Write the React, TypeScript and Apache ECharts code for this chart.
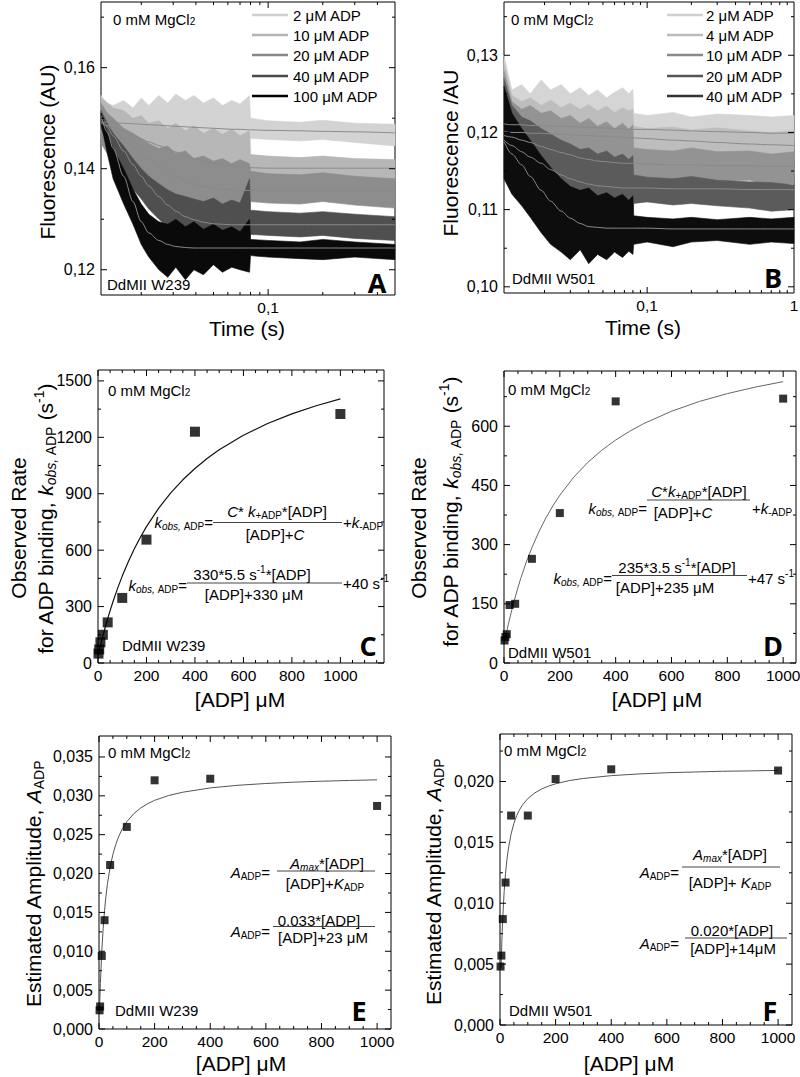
import React, { useEffect, useRef } from "react";
import * as echarts from "echarts";

const FF = "Liberation Sans, Arial, Helvetica, sans-serif";
const BOLDFF = "Open Sans, DejaVu Sans, sans-serif";

// ---------------- Panel A : DdMII W239, fluorescence transients ----------------
const timeA = [0.012, 0.013, 0.014, 0.016, 0.018, 0.02, 0.022, 0.025, 0.028, 0.031, 0.035, 0.039, 0.044, 0.05, 0.056, 0.063, 0.07, 0.079, 0.08, 0.1, 0.15, 0.2, 0.3, 0.5];
const legendA = ["2 μM ADP", "10 μM ADP", "20 μM ADP", "40 μM ADP", "100 μM ADP"];
const hi2A = [0.1545, 0.1530, 0.1525, 0.1535, 0.1520, 0.1540, 0.1525, 0.1545, 0.1530, 0.1548, 0.1535, 0.1545, 0.1530, 0.1540, 0.1525, 0.1535, 0.1528, 0.1545, 0.1500, 0.1495, 0.1492, 0.1496, 0.1490, 0.1488];
const lo2A = [0.1470, 0.1455, 0.1450, 0.1445, 0.1440, 0.1450, 0.1438, 0.1445, 0.1440, 0.1445, 0.1438, 0.1448, 0.1440, 0.1445, 0.1438, 0.1445, 0.1440, 0.1445, 0.1460, 0.1458, 0.1455, 0.1458, 0.1452, 0.1445];
const hi10A = [0.1540, 0.1530, 0.1520, 0.1515, 0.1500, 0.1505, 0.1490, 0.1495, 0.1480, 0.1490, 0.1475, 0.1485, 0.1470, 0.1480, 0.1468, 0.1478, 0.1465, 0.1475, 0.1428, 0.1425, 0.1422, 0.1425, 0.1420, 0.1418];
const lo10A = [0.1460, 0.1440, 0.1430, 0.1420, 0.1410, 0.1400, 0.1395, 0.1385, 0.1380, 0.1370, 0.1365, 0.1360, 0.1355, 0.1358, 0.1350, 0.1355, 0.1350, 0.1352, 0.1383, 0.1385, 0.1382, 0.1380, 0.1378, 0.1375];
const hi20A = [0.1530, 0.1510, 0.1500, 0.1480, 0.1470, 0.1460, 0.1450, 0.1440, 0.1445, 0.1430, 0.1435, 0.1420, 0.1425, 0.1415, 0.1420, 0.1410, 0.1418, 0.1410, 0.1395, 0.1390, 0.1388, 0.1392, 0.1385, 0.1380];
const lo20A = [0.1450, 0.1430, 0.1410, 0.1395, 0.1380, 0.1365, 0.1350, 0.1340, 0.1330, 0.1325, 0.1318, 0.1320, 0.1310, 0.1315, 0.1305, 0.1312, 0.1308, 0.1310, 0.1335, 0.1332, 0.1330, 0.1335, 0.1328, 0.1322];
const hi40A = [0.1515, 0.1490, 0.1470, 0.1445, 0.1420, 0.1400, 0.1385, 0.1370, 0.1358, 0.1350, 0.1345, 0.1340, 0.1335, 0.1342, 0.1330, 0.1338, 0.1332, 0.1380, 0.1318, 0.1315, 0.1312, 0.1315, 0.1310, 0.1305];
const lo40A = [0.1480, 0.1450, 0.1420, 0.1390, 0.1360, 0.1340, 0.1320, 0.1300, 0.1285, 0.1270, 0.1262, 0.1258, 0.1250, 0.1255, 0.1248, 0.1252, 0.1245, 0.1250, 0.1270, 0.1268, 0.1265, 0.1268, 0.1262, 0.1258];
const hi100A = [0.1510, 0.1470, 0.1440, 0.1400, 0.1360, 0.1330, 0.1310, 0.1295, 0.1290, 0.1300, 0.1285, 0.1295, 0.1280, 0.1290, 0.1278, 0.1285, 0.1275, 0.1300, 0.1260, 0.1258, 0.1255, 0.1260, 0.1255, 0.1250];
const lo100A = [0.1490, 0.1430, 0.1380, 0.1330, 0.1290, 0.1250, 0.1225, 0.1200, 0.1185, 0.1205, 0.1180, 0.1200, 0.1190, 0.1210, 0.1195, 0.1205, 0.1200, 0.1195, 0.1228, 0.1225, 0.1222, 0.1220, 0.1225, 0.1220];
const fit2A = [0.1492, 0.1492, 0.1491, 0.1490, 0.1489, 0.1488, 0.1487, 0.1486, 0.1485, 0.1484, 0.1483, 0.1482, 0.1481, 0.1480, 0.1479, 0.1478, 0.1478, 0.1477, 0.1477, 0.1476, 0.1475, 0.1474, 0.1473, 0.1471];
const fit10A = [0.1490, 0.1486, 0.1482, 0.1474, 0.1466, 0.1459, 0.1453, 0.1446, 0.1439, 0.1433, 0.1426, 0.1420, 0.1415, 0.1410, 0.1407, 0.1405, 0.1403, 0.1402, 0.1402, 0.1401, 0.1401, 0.1401, 0.1401, 0.1401];
const fit20A = [0.1495, 0.1485, 0.1476, 0.1458, 0.1443, 0.1430, 0.1419, 0.1405, 0.1394, 0.1385, 0.1376, 0.1370, 0.1365, 0.1361, 0.1359, 0.1358, 0.1357, 0.1357, 0.1357, 0.1357, 0.1357, 0.1357, 0.1357, 0.1357];
const fit40A = [0.1500, 0.1482, 0.1465, 0.1435, 0.1408, 0.1385, 0.1366, 0.1345, 0.1328, 0.1316, 0.1305, 0.1299, 0.1294, 0.1291, 0.1290, 0.1289, 0.1289, 0.1289, 0.1289, 0.1289, 0.1289, 0.1289, 0.1289, 0.1289];
const fit100A = [0.1505, 0.1472, 0.1440, 0.1385, 0.1335, 0.1295, 0.1273, 0.1258, 0.1250, 0.1246, 0.1244, 0.1243, 0.1243, 0.1243, 0.1243, 0.1243, 0.1243, 0.1243, 0.1243, 0.1243, 0.1243, 0.1243, 0.1243, 0.1243];
const yTicksA = [0.12, 0.14, 0.16];
const yMinorA = [0.13, 0.15, 0.17];
const xTicksA = [0.1];
const xMinorA = [0.02, 0.03, 0.04, 0.05, 0.06, 0.07, 0.08, 0.09, 0.2, 0.3, 0.4];

// ---------------- Panel B : DdMII W501, fluorescence transients ----------------
const timeB = [0.0106, 0.012, 0.014, 0.016, 0.019, 0.022, 0.026, 0.03, 0.035, 0.04, 0.046, 0.053, 0.06, 0.068, 0.075, 0.08, 0.081, 0.1, 0.15, 0.2, 0.3, 0.5, 0.7, 1.0];
const legendB = ["2 μM ADP", "4 μM ADP", "10 μM ADP", "20 μM ADP", "40 μM ADP"];
const hi2B = [0.1300, 0.1255, 0.1262, 0.1250, 0.1268, 0.1255, 0.1262, 0.1250, 0.1258, 0.1248, 0.1255, 0.1245, 0.1252, 0.1258, 0.1250, 0.1256, 0.1225, 0.1222, 0.1226, 0.1220, 0.1224, 0.1222, 0.1220, 0.1222];
const lo2B = [0.1190, 0.1175, 0.1168, 0.1172, 0.1165, 0.1170, 0.1166, 0.1172, 0.1168, 0.1175, 0.1170, 0.1176, 0.1172, 0.1178, 0.1174, 0.1180, 0.1188, 0.1190, 0.1186, 0.1190, 0.1187, 0.1188, 0.1185, 0.1188];
const hi4B = [0.1290, 0.1248, 0.1240, 0.1245, 0.1235, 0.1242, 0.1232, 0.1238, 0.1230, 0.1236, 0.1228, 0.1234, 0.1226, 0.1232, 0.1228, 0.1230, 0.1208, 0.1205, 0.1207, 0.1203, 0.1206, 0.1202, 0.1200, 0.1202];
const lo4B = [0.1170, 0.1155, 0.1150, 0.1148, 0.1145, 0.1150, 0.1146, 0.1152, 0.1148, 0.1150, 0.1146, 0.1152, 0.1150, 0.1155, 0.1152, 0.1155, 0.1172, 0.1174, 0.1170, 0.1173, 0.1168, 0.1166, 0.1164, 0.1165];
const hi10B = [0.1280, 0.1240, 0.1230, 0.1235, 0.1225, 0.1228, 0.1218, 0.1222, 0.1212, 0.1218, 0.1208, 0.1214, 0.1205, 0.1212, 0.1204, 0.1210, 0.1180, 0.1178, 0.1176, 0.1180, 0.1175, 0.1176, 0.1172, 0.1175];
const lo10B = [0.1150, 0.1140, 0.1135, 0.1130, 0.1128, 0.1125, 0.1122, 0.1126, 0.1120, 0.1124, 0.1118, 0.1122, 0.1118, 0.1124, 0.1120, 0.1125, 0.1140, 0.1142, 0.1138, 0.1140, 0.1136, 0.1138, 0.1130, 0.1134];
const hi20B = [0.1270, 0.1235, 0.1220, 0.1215, 0.1205, 0.1198, 0.1190, 0.1185, 0.1178, 0.1180, 0.1172, 0.1176, 0.1168, 0.1172, 0.1165, 0.1170, 0.1145, 0.1142, 0.1140, 0.1143, 0.1138, 0.1136, 0.1135, 0.1132];
const lo20B = [0.1150, 0.1135, 0.1125, 0.1118, 0.1110, 0.1102, 0.1098, 0.1092, 0.1088, 0.1090, 0.1085, 0.1088, 0.1084, 0.1088, 0.1085, 0.1090, 0.1108, 0.1110, 0.1106, 0.1108, 0.1105, 0.1102, 0.1098, 0.1100];
const hi40B = [0.1260, 0.1225, 0.1205, 0.1190, 0.1170, 0.1155, 0.1140, 0.1130, 0.1125, 0.1128, 0.1118, 0.1122, 0.1115, 0.1120, 0.1112, 0.1118, 0.1092, 0.1090, 0.1088, 0.1090, 0.1087, 0.1090, 0.1088, 0.1090];
const lo40B = [0.1140, 0.1120, 0.1105, 0.1090, 0.1070, 0.1055, 0.1045, 0.1035, 0.1048, 0.1030, 0.1042, 0.1035, 0.1045, 0.1038, 0.1046, 0.1042, 0.1055, 0.1058, 0.1052, 0.1058, 0.1060, 0.1055, 0.1058, 0.1056];
const fit2B = [0.1211, 0.1210, 0.1210, 0.1209, 0.1209, 0.1208, 0.1208, 0.1208, 0.1207, 0.1207, 0.1206, 0.1206, 0.1205, 0.1205, 0.1204, 0.1204, 0.1204, 0.1204, 0.1203, 0.1202, 0.1201, 0.1200, 0.1199, 0.1199];
const fit4B = [0.1201, 0.1200, 0.1200, 0.1199, 0.1199, 0.1198, 0.1198, 0.1197, 0.1196, 0.1196, 0.1195, 0.1195, 0.1194, 0.1194, 0.1193, 0.1193, 0.1193, 0.1192, 0.1190, 0.1189, 0.1187, 0.1185, 0.1184, 0.1183];
const fit10B = [0.1196, 0.1194, 0.1190, 0.1187, 0.1182, 0.1178, 0.1174, 0.1171, 0.1167, 0.1165, 0.1163, 0.1162, 0.1161, 0.1160, 0.1160, 0.1160, 0.1160, 0.1159, 0.1158, 0.1158, 0.1157, 0.1157, 0.1156, 0.1156];
const fit20B = [0.1190, 0.1183, 0.1175, 0.1168, 0.1160, 0.1152, 0.1145, 0.1140, 0.1136, 0.1133, 0.1131, 0.1130, 0.1129, 0.1128, 0.1128, 0.1128, 0.1128, 0.1128, 0.1127, 0.1127, 0.1127, 0.1126, 0.1126, 0.1126];
const fit40B = [0.1188, 0.1172, 0.1158, 0.1143, 0.1125, 0.1111, 0.1098, 0.1089, 0.1082, 0.1078, 0.1077, 0.1076, 0.1076, 0.1076, 0.1076, 0.1076, 0.1076, 0.1076, 0.1075, 0.1075, 0.1075, 0.1075, 0.1075, 0.1075];
const yTicksB = [0.1, 0.11, 0.12, 0.13];
const yMinorB = [0.105, 0.115, 0.125, 0.135];
const xTicksB = [0.1];
const xMinorB = [0.02, 0.03, 0.04, 0.05, 0.06, 0.07, 0.08, 0.09, 0.2, 0.3, 0.4, 0.5, 0.6, 0.7, 0.8, 0.9];

// ---------------- Panels C / D : observed rate ----------------
const adpC = [2, 5, 10, 20, 40, 100, 200, 400, 1000];
const rateC = [50, 72, 110, 150, 216, 346, 656, 1230, 1324];
const adpD = [2, 5, 10, 20, 40, 100, 200, 400, 1000];
const rateD = [57, 66, 73, 147, 150, 264, 380, 663, 670];
const fitAdpCD = [0, 5, 10, 15, 20, 30, 40, 50, 60, 80, 100, 125, 150, 175, 200, 250, 300, 350, 400, 450, 500, 600, 700, 800, 900, 1000];
const fitRateC = [40, 67.1, 93.4, 118.9, 143.7, 191.3, 236.2, 278.8, 319.2, 394.1, 462.1, 538.6, 607.2, 669.0, 724.9, 822.3, 904.3, 974.2, 1034.5, 1087.1, 1133.4, 1211.0, 1273.5, 1325.0, 1368.0, 1404.7];
const fitRateD = [47, 64.1, 80.6, 96.4, 111.5, 140.1, 166.6, 191.3, 214.3, 255.9, 292.5, 332.6, 367.5, 398.1, 425.2, 471.0, 508.2, 539.1, 565.1, 587.3, 606.5, 638.0, 662.8, 682.7, 699.2, 713.0];
const xTicksADP = [0, 200, 400, 600, 800, 1000];
const yTicksC = [0, 300, 600, 900, 1200, 1500];
const yTicksD = [0, 150, 300, 450, 600];

// ---------------- Panels E / F : amplitude ----------------
const adpE = [2, 4, 10, 20, 40, 100, 200, 400, 1000];
const ampE = [0.0024, 0.0029, 0.0094, 0.0140, 0.0211, 0.0260, 0.0320, 0.0322, 0.0287];
const adpF = [2, 5, 10, 20, 40, 100, 200, 400, 1000];
const ampF = [0.0048, 0.0057, 0.0087, 0.0117, 0.0172, 0.0172, 0.0202, 0.0210, 0.0209];
const fitAdpE = [2, 5, 10, 15, 20, 25, 30, 40, 50, 60, 70, 80, 100, 125, 150, 175, 200, 250, 300, 400, 500, 600, 700, 800, 900, 1000];
const fitAmpE = [0.00262, 0.00586, 0.00994, 0.01295, 0.01526, 0.01708, 0.01857, 0.02083, 0.02247, 0.02371, 0.02469, 0.02548, 0.02667, 0.02770, 0.02844, 0.02899, 0.02942, 0.03004, 0.03046, 0.03102, 0.03136, 0.03159, 0.03176, 0.03188, 0.03198, 0.03206];
const fitAdpF = [4, 5, 7, 10, 15, 20, 25, 30, 40, 50, 60, 70, 80, 100, 125, 150, 175, 200, 250, 300, 400, 500, 600, 700, 800, 900, 1000];
const fitAmpF = [0.00471, 0.00558, 0.00707, 0.00883, 0.01097, 0.01247, 0.01359, 0.01445, 0.01570, 0.01656, 0.01719, 0.01767, 0.01804, 0.01860, 0.01906, 0.01939, 0.01963, 0.01981, 0.02008, 0.02025, 0.02048, 0.02062, 0.02072, 0.02078, 0.02084, 0.02087, 0.02091];
const yTicksE = [0, 0.005, 0.01, 0.015, 0.02, 0.025, 0.03, 0.035];
const yTicksF = [0, 0.005, 0.01, 0.015, 0.02];

// ---------------- helpers ----------------
function minorBetween(max: number, step: number, major: number) {
  const out: number[] = [];
  for (let k = 1; k * step < max * 0.985; k++) {
    const v = +(k * step).toFixed(6);
    const r = v / major;
    if (Math.abs(r - Math.round(r)) > 1e-6) out.push(v);
  }
  return out;
}

function richSet(size: number, sub: number) {
  const base = { fontFamily: FF, fill: "#000" };
  const lh = Math.round(size * 1.25);
  return {
    n: { ...base, fontSize: size, lineHeight: lh },
    i: { ...base, fontSize: size, fontStyle: "italic", lineHeight: lh },
    s: { ...base, fontSize: sub, lineHeight: sub, verticalAlign: "bottom" },
    si: { ...base, fontSize: sub, fontStyle: "italic", lineHeight: sub, verticalAlign: "bottom" },
    p: { ...base, fontSize: sub, lineHeight: sub, verticalAlign: "top" },
  };
}
const R15 = richSet(15, 10);
const R21 = richSet(21, 14);

function txt(x: number, y: number, text: string, align = "left", big = false, rot = 0) {
  return {
    type: "text",
    x,
    y,
    rotation: rot,
    silent: true,
    z: 100,
    style: {
      text,
      rich: big ? R21 : R15,
      fontFamily: FF,
      fontSize: big ? 21 : 15,
      fill: "#000",
      align,
      verticalAlign: "middle",
    },
  };
}
function letter(x: number, y: number, t: string) {
  return {
    type: "text",
    x,
    y,
    silent: true,
    z: 100,
    style: { text: t, fontFamily: BOLDFF, fontWeight: "bold", fontSize: 27, fill: "#000", align: "center", verticalAlign: "middle" },
  };
}
function hline(x1: number, x2: number, y: number, color = "#444", w = 1) {
  return { type: "line", silent: true, z: 100, shape: { x1, y1: y, x2, y2: y }, style: { stroke: color, lineWidth: w } };
}

function bandSeries(gi: number, t: number[], hi: number[], lo: number[], color: string) {
  const verts = t.map((x, i) => [x, hi[i]]).concat(t.map((x, i) => [x, lo[i]]).reverse());
  return {
    type: "custom",
    xAxisIndex: gi,
    yAxisIndex: gi,
    silent: true,
    z: 2,
    data: verts,
    renderItem: (params: any, api: any) => {
      if (params.dataIndex !== 0) return { type: "group", children: [] };
      const pts = verts.map((p) => api.coord(p));
      return { type: "polygon", shape: { points: pts }, style: { fill: color, stroke: color, lineWidth: 0.6 } };
    },
  };
}

function fitLine(gi: number, xs: number[], ys: number[], color: string, w = 1, smooth: any = false) {
  return {
    type: "line",
    xAxisIndex: gi,
    yAxisIndex: gi,
    data: xs.map((x, i) => [x, ys[i]]),
    showSymbol: false,
    symbol: "none",
    smooth,
    smoothMonotone: "x",
    silent: true,
    z: 3,
    lineStyle: { color, width: w },
  };
}

function scatter(gi: number, xs: number[], ys: number[], size: number) {
  return {
    type: "scatter",
    xAxisIndex: gi,
    yAxisIndex: gi,
    data: xs.map((x, i) => [x, ys[i]]),
    symbol: "rect",
    symbolSize: size,
    silent: true,
    z: 4,
    itemStyle: { color: "#000" },
  };
}

function tickSeries(gi: number, xr: number[], yr: number[], xMaj: number[], xMin: number[], yMaj: number[], yMin: number[]) {
  const data: number[][] = [];
  xMaj.forEach((v) => data.push([v, yr[0], 0, 6]));
  xMin.forEach((v) => data.push([v, yr[0], 0, 3]));
  yMaj.forEach((v) => data.push([xr[0], v, 1, 6]));
  yMin.forEach((v) => data.push([xr[0], v, 1, 3]));
  return {
    type: "custom",
    xAxisIndex: gi,
    yAxisIndex: gi,
    silent: true,
    z: 6,
    data,
    renderItem: (params: any, api: any) => {
      const v0 = api.value(0);
      const v1 = api.value(1);
      const kind = api.value(2);
      const len = api.value(3);
      const st = { stroke: "#000", lineWidth: 1 };
      if (kind === 0) {
        const p = api.coord([v0, yr[0]]);
        const q = api.coord([v0, yr[1]]);
        return {
          type: "group",
          children: [
            { type: "line", shape: { x1: p[0], y1: p[1], x2: p[0], y2: p[1] - len }, style: st },
            { type: "line", shape: { x1: q[0], y1: q[1], x2: q[0], y2: q[1] + len }, style: st },
          ],
        };
      }
      const p = api.coord([xr[0], v1]);
      const q = api.coord([xr[1], v1]);
      return {
        type: "group",
        children: [
          { type: "line", shape: { x1: p[0], y1: p[1], x2: p[0] + len, y2: p[1] }, style: st },
          { type: "line", shape: { x1: q[0], y1: q[1], x2: q[0] - len, y2: q[1] }, style: st },
        ],
      };
    },
  };
}

const comma = (d: number) => (v: number) => v.toFixed(d).replace(".", ",");
const plainInt = (v: number) => String(Math.round(v));
const decadeLabel = (v: number) => {
  const l = Math.log10(v);
  if (Math.abs(l - Math.round(l)) > 1e-4) return "";
  return String(+v.toPrecision(3)).replace(".", ",");
};

function buildOption() {
  const boxes = [
    { left: 101, top: 2, width: 294, height: 293 },
    { left: 504, top: 2, width: 290, height: 291 },
    { left: 98, top: 370, width: 286, height: 293 },
    { left: 504, top: 371, width: 292, height: 292 },
    { left: 99, top: 736, width: 292, height: 293 },
    { left: 500, top: 734, width: 292, height: 291 },
  ];
  const grid = boxes.map((b) => ({ ...b, show: true, borderColor: "#000", borderWidth: 1, backgroundColor: "transparent", containLabel: false, outerBoundsMode: "none" }));

  const lblY = { fontSize: 16, fontFamily: FF, color: "#000", margin: 6 };
  const lblX = { fontSize: 15.5, fontFamily: FF, color: "#000", margin: 4 };
  const baseAxis = { axisLine: { show: false }, axisTick: { show: false }, splitLine: { show: false } };

  const xR = [[0.012, 0.5], [0.0106, 1], [0, 1180], [0, 1046], [0, 1050], [0, 1050]];
  const yR = [[0.115, 0.173], [0.0992, 0.1369], [0, 1558], [0, 740], [0, 0.0377], [0, 0.0239]];

  const xAxis = [
    { ...baseAxis, gridIndex: 0, type: "log", logBase: 10, min: xR[0][0], max: xR[0][1], axisLabel: { ...lblX, interval: 0, formatter: decadeLabel } },
    { ...baseAxis, gridIndex: 1, type: "log", logBase: 10, min: xR[1][0], max: xR[1][1], axisLabel: { ...lblX, interval: 0, formatter: decadeLabel } },
    { ...baseAxis, gridIndex: 2, type: "value", min: xR[2][0], max: xR[2][1], axisLabel: { ...lblX, customValues: xTicksADP, formatter: plainInt } },
    { ...baseAxis, gridIndex: 3, type: "value", min: xR[3][0], max: xR[3][1], axisLabel: { ...lblX, customValues: xTicksADP, formatter: plainInt } },
    { ...baseAxis, gridIndex: 4, type: "value", min: xR[4][0], max: xR[4][1], axisLabel: { ...lblX, customValues: xTicksADP, formatter: plainInt } },
    { ...baseAxis, gridIndex: 5, type: "value", min: xR[5][0], max: xR[5][1], axisLabel: { ...lblX, customValues: xTicksADP, formatter: plainInt } },
  ];
  const yAxis = [
    { ...baseAxis, gridIndex: 0, type: "value", min: yR[0][0], max: yR[0][1], axisLabel: { ...lblY, customValues: yTicksA, formatter: comma(2) } },
    { ...baseAxis, gridIndex: 1, type: "value", min: yR[1][0], max: yR[1][1], axisLabel: { ...lblY, customValues: yTicksB, formatter: comma(2) } },
    { ...baseAxis, gridIndex: 2, type: "value", min: yR[2][0], max: yR[2][1], axisLabel: { ...lblY, customValues: yTicksC, formatter: plainInt } },
    { ...baseAxis, gridIndex: 3, type: "value", min: yR[3][0], max: yR[3][1], axisLabel: { ...lblY, customValues: yTicksD, formatter: plainInt } },
    { ...baseAxis, gridIndex: 4, type: "value", min: yR[4][0], max: yR[4][1], axisLabel: { ...lblY, customValues: yTicksE, formatter: comma(3) } },
    { ...baseAxis, gridIndex: 5, type: "value", min: yR[5][0], max: yR[5][1], axisLabel: { ...lblY, customValues: yTicksF, formatter: comma(3) } },
  ];

  const series: any[] = [];
  const colorsA = ["#d3d3d3", "#b7b7b7", "#8d8d8d", "#4f4f4f", "#0a0a0a"];
  const colorsB = ["#d5d5d5", "#bdbdbd", "#939393", "#5b5b5b", "#0d0d0d"];
  const bandsA = [[hi2A, lo2A], [hi10A, lo10A], [hi20A, lo20A], [hi40A, lo40A], [hi100A, lo100A]];
  const bandsB = [[hi2B, lo2B], [hi4B, lo4B], [hi10B, lo10B], [hi20B, lo20B], [hi40B, lo40B]];
  bandsA.forEach(([h, l], k) => series.push(bandSeries(0, timeA, h, l, colorsA[k])));
  [fit2A, fit10A, fit20A, fit40A, fit100A].forEach((f) => series.push(fitLine(0, timeA, f, "#8a8a8a", 1, 0.3)));
  bandsB.forEach(([h, l], k) => series.push(bandSeries(1, timeB, h, l, colorsB[k])));
  [fit2B, fit4B, fit10B, fit20B, fit40B].forEach((f) => series.push(fitLine(1, timeB, f, "#8a8a8a", 1, 0.3)));

  series.push(fitLine(2, fitAdpCD, fitRateC, "#111", 1.2));
  series.push(scatter(2, adpC, rateC, 10));
  series.push(fitLine(3, fitAdpCD, fitRateD, "#666", 1));
  series.push(scatter(3, adpD, rateD, 8));
  series.push(fitLine(4, fitAdpE, fitAmpE, "#555", 1));
  series.push(scatter(4, adpE, ampE, 8));
  series.push(fitLine(5, fitAdpF, fitAmpF, "#555", 1));
  series.push(scatter(5, adpF, ampF, 8));

  series.push(tickSeries(0, xR[0], yR[0], xTicksA, xMinorA, yTicksA, yMinorA));
  series.push(tickSeries(1, xR[1], yR[1], xTicksB, xMinorB, yTicksB, yMinorB));
  series.push(tickSeries(2, xR[2], yR[2], xTicksADP, minorBetween(1180, 50, 200), yTicksC, minorBetween(1558, 150, 300)));
  series.push(tickSeries(3, xR[3], yR[3], xTicksADP, minorBetween(1046, 50, 200), yTicksD, minorBetween(740, 75, 150)));
  series.push(tickSeries(4, xR[4], yR[4], xTicksADP, minorBetween(1050, 50, 200), yTicksE, minorBetween(0.0377, 0.0025, 0.005)));
  series.push(tickSeries(5, xR[5], yR[5], xTicksADP, minorBetween(1050, 50, 200), yTicksF, minorBetween(0.0239, 0.0025, 0.005)));

  const legColorsA = ["#d0d0d0", "#b4b4b4", "#888888", "#4a4a4a", "#000000"];
  const legColorsB = ["#d0d0d0", "#bcbcbc", "#8a8a8a", "#555555", "#333333"];
  const rows = [15, 35, 55, 76, 96];
  const g: any[] = [];
  // Panel A
  legendA.forEach((s, k) => {
    g.push(hline(252, 288, rows[k], legColorsA[k], 2.5));
    g.push(txt(293, rows[k], s));
  });
  g.push(txt(113, 19, "0 mM MgCl{s|2}"));
  g.push(txt(107, 284, "DdMII W239"));
  g.push(letter(377, 282, "A"));
  g.push(txt(47, 152, "Fluorescence (AU)", "center", true, Math.PI / 2));
  g.push(txt(247, 328, "Time (s)", "center", true));
  // Panel B
  legendB.forEach((s, k) => {
    g.push(hline(667, 703, rows[k], legColorsB[k], 2.5));
    g.push(txt(706, rows[k], s));
  });
  g.push(txt(511, 19, "0 mM MgCl{s|2}"));
  g.push(txt(512, 278, "DdMII W501"));
  g.push(letter(773, 277, "B"));
  g.push(txt(450, 153, "Fluorescence /AU", "center", true, Math.PI / 2));
  g.push(txt(643, 327, "Time (s)", "center", true));
  // Panel C
  g.push(txt(108, 390, "0 mM MgCl{s|2}"));
  g.push(txt(122, 645, "DdMII W239"));
  g.push(letter(368, 645, "C"));
  g.push(txt(18, 528, "Observed Rate", "center", true, Math.PI / 2));
  g.push(txt(45, 519, "{n|for ADP binding, }{i|k}{si|obs,}{s| ADP}{n| (s}{p|-1}{n|)}", "center", true, Math.PI / 2));
  g.push(txt(240, 699, "[ADP] μM", "center", true));
  g.push(txt(213, 522, "{i|k}{si|obs,}{s| ADP}{n|=}", "right"));
  g.push(txt(277, 511, "{i|C}{n|* }{i|k}{s|+ADP}{n|*[ADP]}", "center"));
  g.push(hline(213, 342, 522.5));
  g.push(txt(275, 534, "{n|[ADP]+}{i|C}", "center"));
  g.push(txt(343, 522, "{n|+}{i|k}{s|-ADP}"));
  g.push(txt(187, 585, "{i|k}{si|obs,}{s| ADP}{n|=}", "right"));
  g.push(txt(252, 574, "{n|330*5.5 s}{p|-1}{n|*[ADP]}", "center"));
  g.push(hline(187, 342, 583));
  g.push(txt(254, 594, "{n|[ADP]+330 μM}", "center"));
  g.push(txt(343, 583, "{n|+40 s}{p|-1}"));
  // Panel D
  g.push(txt(508, 389, "0 mM MgCl{s|2}"));
  g.push(txt(508, 652, "DdMII W501"));
  g.push(letter(773, 645, "D"));
  g.push(txt(418, 528, "Observed Rate", "center", true, Math.PI / 2));
  g.push(txt(450, 512, "{n|for ADP binding, }{i|k}{si|obs,}{s| ADP}{n| (s}{p|-1}{n|)}", "center", true, Math.PI / 2));
  g.push(txt(657, 699, "[ADP] μM", "center", true));
  g.push(txt(647, 508, "{i|k}{si|obs,}{s| ADP}{n|=}", "right"));
  g.push(txt(699, 491, "{i|C}{n|*}{i|k}{s|+ADP}{n|*[ADP]}", "center"));
  g.push(hline(647, 750, 500));
  g.push(txt(683, 512, "{n|[ADP]+}{i|C}", "center"));
  g.push(txt(752, 508, "{n|+}{i|k}{s|-ADP}"));
  g.push(txt(612, 578, "{i|k}{si|obs,}{s| ADP}{n|=}", "right"));
  g.push(txt(677, 567, "{n|235*3.5 s}{p|-1}{n|*[ADP]}", "center"));
  g.push(hline(612, 747, 575.5));
  g.push(txt(665, 587, "{n|[ADP]+235 μM}", "center"));
  g.push(txt(748, 578, "{n|+47 s}{p|-1}"));
  // Panel E
  g.push(txt(108, 752, "0 mM MgCl{s|2}"));
  g.push(txt(115, 1010, "DdMII W239"));
  g.push(letter(359, 1010, "E"));
  g.push(txt(33, 884, "{n|Estimated Amplitude, }{i|A}{s|ADP}", "center", true, Math.PI / 2));
  g.push(txt(241, 1063, "[ADP] μM", "center", true));
  g.push(txt(270, 872, "{i|A}{s|ADP}{n|=}", "right"));
  g.push(txt(327, 863, "{i|A}{si|max}{n|*[ADP]}", "center"));
  g.push(hline(277, 375, 871));
  g.push(txt(325, 883, "{n|[ADP]+}{i|K}{s|ADP}", "center"));
  g.push(txt(270, 931, "{i|A}{s|ADP}{n|=}", "right"));
  g.push(txt(319, 920, "{n|0.033*[ADP]}", "center"));
  g.push(hline(273, 375, 926.5));
  g.push(txt(323, 937, "{n|[ADP]+23 μM}", "center"));
  // Panel F
  g.push(txt(504, 750, "0 mM MgCl{s|2}"));
  g.push(txt(509, 1010, "DdMII W501"));
  g.push(letter(770, 1010, "F"));
  g.push(txt(433, 882, "{n|Estimated Amplitude, }{i|A}{s|ADP}", "center", true, Math.PI / 2));
  g.push(txt(629, 1063, "[ADP] μM", "center", true));
  g.push(txt(679, 872, "{i|A}{s|ADP}{n|=}", "right"));
  g.push(txt(730, 854, "{i|A}{si|max}{n|*[ADP]}", "center"));
  g.push(hline(682, 780, 867));
  g.push(txt(730, 882, "{n|[ADP]+ }{i|K}{s|ADP}", "center"));
  g.push(txt(679, 943, "{i|A}{s|ADP}{n|=}", "right"));
  g.push(txt(732, 930, "{n|0.020*[ADP]}", "center"));
  g.push(hline(685, 787, 938));
  g.push(txt(733, 948, "{n|[ADP]+14μM}", "center"));

  return {
    animation: false,
    backgroundColor: "#fff",
    textStyle: { fontFamily: FF },
    grid,
    xAxis,
    yAxis,
    series,
    graphic: { elements: g },
  };
}

export default function App() {
  const ref = useRef<HTMLDivElement>(null);
  useEffect(() => {
    document.body.style.margin = "0";
    const chart = echarts.init(ref.current as HTMLDivElement, null, { renderer: "svg" });
    chart.setOption(buildOption() as any);
    return () => chart.dispose();
  }, []);
  return <div ref={ref} style={{ width: 800, height: 1077 }} />;
}
